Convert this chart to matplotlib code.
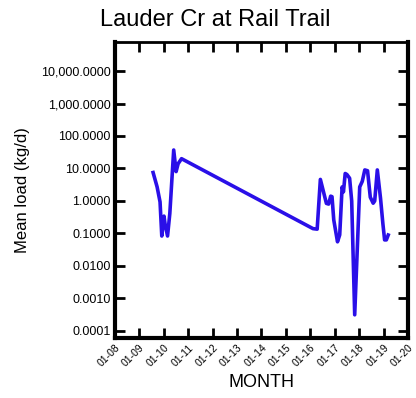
import pandas as pd
import matplotlib.pyplot as plt
import matplotlib.ticker as mtick
import matplotlib.dates as mdates

plt.rcParams['font.family'] = ['Liberation Sans', 'DejaVu Sans']

# 월평균 부하량 (kg/d)
dates = ['2009-07-26', '2009-09-24', '2009-11-07', '2009-12-03', '2010-01-05',
         '2010-01-20', '2010-02-27', '2010-04-02', '2010-05-30', '2010-07-05',
         '2010-08-04', '2010-09-24',
         '2016-02-10', '2016-04-12', '2016-05-30', '2016-08-28', '2016-09-30',
         '2016-10-31', '2016-11-20', '2016-12-16', '2017-02-10', '2017-03-15',
         '2017-04-20', '2017-05-10', '2017-06-05', '2017-07-01', '2017-08-10',
         '2017-09-10', '2017-10-25', '2018-01-08', '2018-02-15', '2018-03-25',
         '2018-05-05', '2018-06-15', '2018-07-28', '2018-08-20', '2018-09-28',
         '2018-11-15', '2018-12-20', '2019-01-15', '2019-02-10', '2019-03-10']
load = [7.5, 2.7, 0.93, 0.083, 0.34,
        0.2, 0.083, 0.41, 37, 8,
        14, 20,
        0.14, 0.135, 4.6, 0.84, 0.8,
        1.4, 1.35, 0.26, 0.055, 0.09,
        2.7, 1.9, 7, 6.5, 5,
        1.0, 0.00031, 2.7, 4, 9,
        8.5, 1.3, 0.85, 1.0, 9,
        1.2, 0.2, 0.063, 0.063, 0.089]

data = pd.DataFrame({'Date': pd.to_datetime(dates), 'Load': load})

fig = plt.figure(figsize=(4.16, 3.98), dpi=100)
ax = fig.add_axes([0.276, 0.151, 0.705, 0.743])
ax.plot(data['Date'], data['Load'], color='#2a0fe8', linewidth=2.6)

# 로그 축 (0.0001 ~ 10,000)
ax.set_yscale('log')
ax.set_ylim(10 ** -4.22, 10 ** 4.89)
ax.set_yticks([10.0 ** k for k in range(-4, 5)])
ax.yaxis.set_minor_locator(mtick.NullLocator())
ax.yaxis.set_major_formatter(mtick.FuncFormatter(lambda v, p: '{:,.4f}'.format(v)))

# X축 날짜 포맷 설정 (연 단위)
ax.set_xlim(pd.Timestamp('2008-01-01'), pd.Timestamp('2020-01-01'))
ax.xaxis.set_major_locator(mdates.YearLocator())
ax.xaxis.set_major_formatter(mdates.DateFormatter('%m-%y'))
plt.setp(ax.get_xticklabels(), rotation=45, ha='right', rotation_mode='anchor')

ax.tick_params(direction='in', length=7, width=2, top=True, right=True,
               labelsize=7.5, colors='black')
ax.tick_params(axis='y', labelsize=9, pad=3)
for side in ['left', 'right', 'bottom']:
    ax.spines[side].set_linewidth(3)
ax.spines['top'].set_linewidth(2)

fig.text(0.518, 1 - 26 / 398, 'Lauder Cr at Rail Trail', fontsize=17,
         ha='center', va='baseline')
ax.set_xlabel('MONTH', fontsize=13, labelpad=4)
ax.set_ylabel('Mean load (kg/d)', fontsize=12, labelpad=8)

plt.savefig('out.png', dpi=100)
